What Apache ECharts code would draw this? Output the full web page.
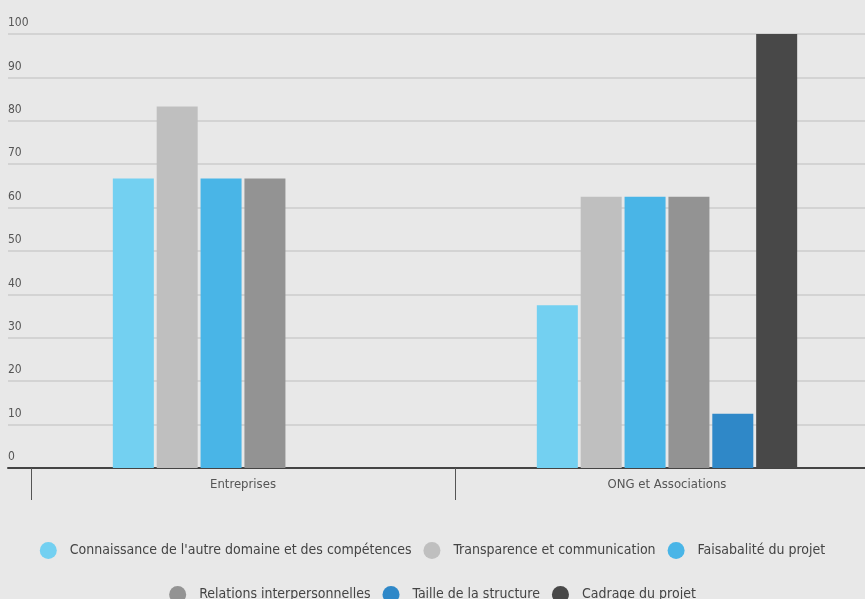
<!DOCTYPE html>
<html><head><meta charset="utf-8">
<script src="https://cdn.jsdelivr.net/npm/echarts@6/dist/echarts.min.js"></script>
<style>html,body{margin:0;padding:0;background:#e8e8e8;}#c{width:865px;height:599px;}</style>
</head><body><div id="c"></div>
<script>
var categories = ['Entreprises', 'ONG et Associations'];
var seriesNames = ['Connaissance de l\'autre domaine et des compétences', 'Transparence et communication', 'Faisabalité du projet', 'Relations interpersonnelles', 'Taille de la structure', 'Cadrage du projet'];
var connaissance = [66.7, 37.5];
var transparence = [83.3, 62.5];
var faisabilite = [66.7, 62.5];
var relations = [66.7, 62.5];
var taille = [0, 12.5];
var cadrage = [0, 100];
var yTicks = [0, 10, 20, 30, 40, 50, 60, 70, 80, 90, 100];
var colors = ['#73d0f1', '#bfbfbf', '#49b5e7', '#939393', '#2f88c8', '#484848'];

var FONT = "'Liberation Sans Narrow', 'DejaVu Sans Condensed', sans-serif";
var values = [connaissance, transparence, faisabilite, relations, taille, cadrage];
var chart = echarts.init(document.getElementById('c'));
chart.setOption({
  backgroundColor: '#e8e8e8',
  animation: false,
  legend: [{
    data: seriesNames.slice(0, 3), top: 537, left: 'center', icon: 'circle',
    itemWidth: 17, itemHeight: 17, itemGap: 12,
    textStyle: { fontFamily: FONT, fontSize: 14, color: '#444', padding: [0, 0, 0, 8] }
  }, {
    data: seriesNames.slice(3), top: 581, left: 'center', icon: 'circle',
    itemWidth: 17, itemHeight: 17, itemGap: 12,
    textStyle: { fontFamily: FONT, fontSize: 14, color: '#444', padding: [0, 0, 0, 8] }
  }],
  grid: [
    { left: 8, right: 0, top: 34, bottom: 131, outerBoundsMode: 'none', containLabel: false },
    { left: 31, width: 848, top: 34, bottom: 131, outerBoundsMode: 'none', containLabel: false }
  ],
  xAxis: [{
    gridIndex: 0, type: 'category', data: categories,
    axisLine: { show: true, lineStyle: { color: '#444', width: 2 } },
    axisTick: { show: false }, axisLabel: { show: false }, splitLine: { show: false }
  }, {
    gridIndex: 1, type: 'category', data: categories,
    axisLine: { show: false },
    axisTick: { show: true, length: 32, lineStyle: { color: '#555', width: 1 } },
    axisLabel: { margin: 10, fontFamily: FONT, fontSize: 13, color: '#555' }
  }],
  yAxis: [{
    gridIndex: 0, type: 'value', min: 0, max: 100, interval: 10,
    axisLine: { show: false }, axisTick: { show: false },
    axisLabel: {
      inside: true, margin: 0, verticalAlign: 'bottom', align: 'left',
      padding: [0, 0, 5, 0], fontFamily: FONT, fontSize: 12, color: '#555',
      formatter: function (v) { return yTicks.indexOf(v) >= 0 ? String(v) : ''; }
    },
    splitLine: { show: true, lineStyle: { color: '#cdcdcd', width: 1.5 } }
  }, {
    gridIndex: 1, type: 'value', min: 0, max: 100, interval: 10, show: false,
    splitLine: { show: false }
  }],
  series: seriesNames.map(function (n, i) {
    return {
      name: n, type: 'bar', xAxisIndex: 1, yAxisIndex: 1,
      data: values[i], barWidth: 41, barGap: '7%',
      itemStyle: { color: colors[i] }
    };
  })
});
</script></body></html>
